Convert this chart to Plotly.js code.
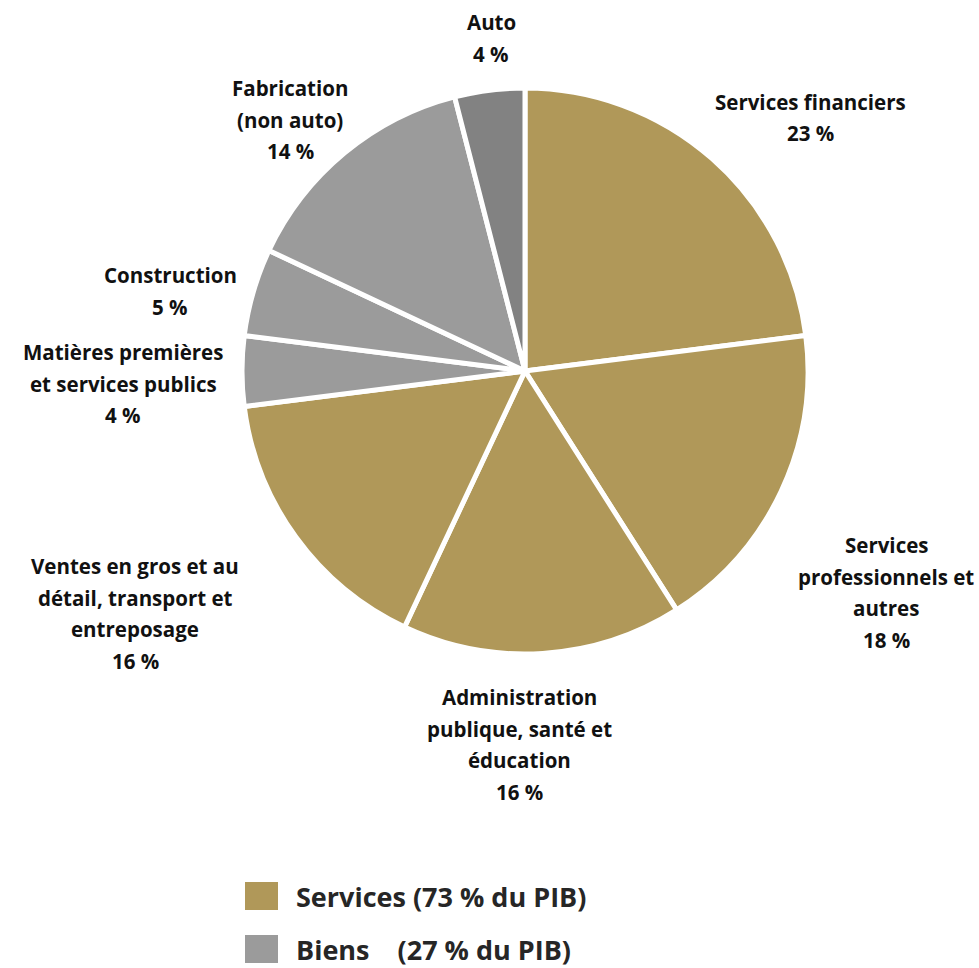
<!DOCTYPE html>
<html><head><meta charset="utf-8">
<script src="https://cdn.plot.ly/plotly-3.0.1.min.js"></script>
<style>body{margin:0;background:#fff}</style>
</head><body><div id="chart" style="width:979px;height:968px"></div>
<script>
// Data (clockwise from 12 o'clock)
const sectors = ["Services financiers", "Services professionnels et autres", "Administration publique, santé et éducation", "Ventes en gros et au détail, transport et entreposage", "Matières premières et services publics", "Construction", "Fabrication (non auto)", "Auto"];
const shares = [23, 18, 16, 16, 4, 5, 14, 4];
const groups = ["Services", "Services", "Services", "Services", "Biens", "Biens", "Biens", "Biens"];
const labelLines = [
  ["Services financiers"],
  ["Services", "professionnels et", "autres"],
  ["Administration", "publique, santé et", "éducation"],
  ["Ventes en gros et au", "détail, transport et", "entreposage"],
  ["Matières premières", "et services publics"],
  ["Construction"],
  ["Fabrication", "(non auto)"],
  ["Auto"]
];
const legendNames = ["Services (73 % du PIB)", "Biens    (27 % du PIB)"];

const W = 979, H = 968;
const colorServices = "#B09859", colorBiens = "#9B9B9B", colorAuto = "#828282";
const colors = sectors.map((s, i) => s === "Auto" ? colorAuto : (groups[i] === "Services" ? colorServices : colorBiens));

// label positions (pixel: center x, first-line y)
const labelPos = [[810, 102], [886, 545], [519, 697], [135, 566], [123, 352], [170, 275], [290, 88], [491, 22]];
const lineStep = 31.5;

const px = x => x / W, py = y => 1 - y / H;
const annotations = [];
labelLines.forEach((lines, i) => {
  const all = lines.concat([shares[i] + " %"]);
  all.forEach((t, k) => {
    annotations.push({xref: "paper", yref: "paper", x: px(labelPos[i][0]), y: py(labelPos[i][1] + k * lineStep),
      text: t, showarrow: false, xanchor: "center", yanchor: "middle",
      font: {family: "Open Sans", size: 20.5, color: "#111", weight: 700}});
  });
});
const legendColors = [colorServices, colorBiens];
const shapes = [];
const legY = [896, 949];
legendNames.forEach((n, i) => {
  shapes.push({type: "rect", xref: "paper", yref: "paper", x0: px(245), x1: px(278), y0: py(legY[i] - 14), y1: py(legY[i] + 14), fillcolor: legendColors[i], line: {width: 0}});
  annotations.push({xref: "paper", yref: "paper", x: px(294), y: py(legY[i]), text: n.replace(/ {2,}/g, m => "&nbsp;".repeat(m.length)), showarrow: false,
    xanchor: "left", yanchor: "middle", font: {family: "Open Sans", size: 27, color: "#262626", weight: 700}});
});

const trace = {
  type: "pie", values: shares, labels: sectors, sort: false, direction: "clockwise", rotation: 0,
  marker: {colors: colors, line: {color: "#fff", width: 5}},
  textinfo: "none", hoverinfo: "label+percent", showlegend: false,
  domain: {x: [242 / W, 808 / W], y: [1 - 654 / H, 1 - 88 / H]}
};
Plotly.newPlot("chart", [trace], {
  width: W, height: H, margin: {l: 0, r: 0, t: 0, b: 0}, paper_bgcolor: "#fff",
  showlegend: false, annotations: annotations, shapes: shapes
}, {displayModeBar: false, staticPlot: true});
</script></body></html>
